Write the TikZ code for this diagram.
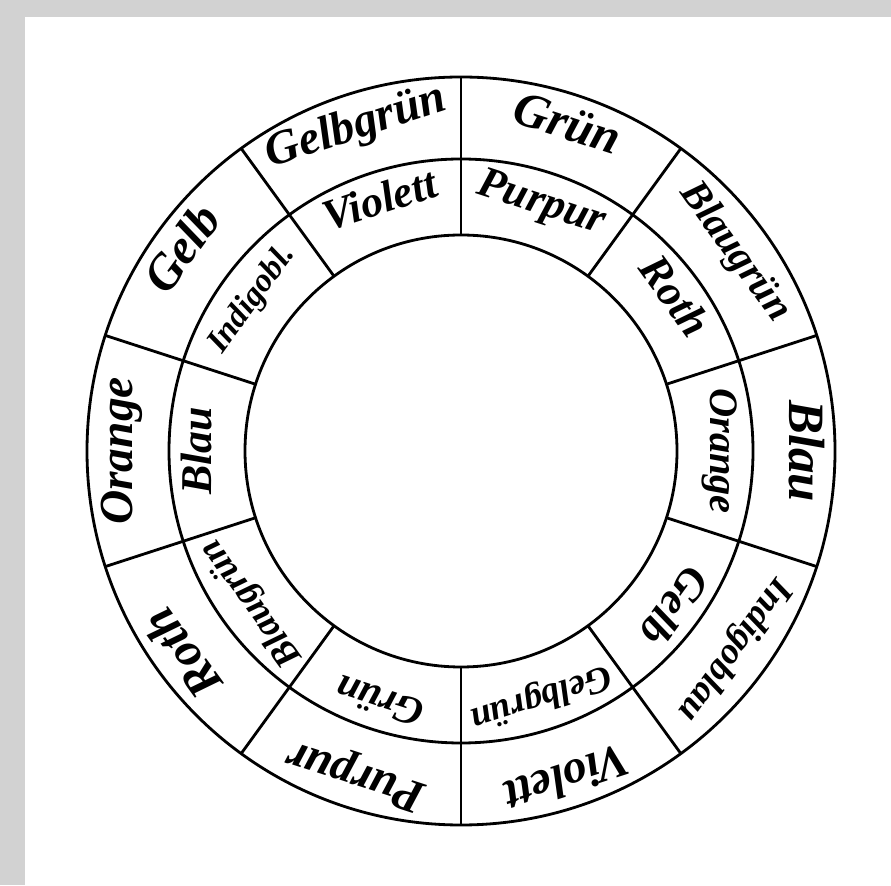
\documentclass[tikz,border=0pt]{standalone}
\usepackage{fontspec}
\setmainfont{Liberation Serif}
\begin{document}
\begin{tikzpicture}[x=0.02cm,y=0.02cm,
		ring/.style={line width=1.6pt},
		label/.style={font=\bfseries\itshape\fontsize{#1}{#1}\selectfont, inner sep=0pt, text height=0.7em, text depth=0.2em}]
		% Frame
		\fill[gray!35] (0,0) rectangle (891,885);
		\fill[white] (25,0) rectangle (891,868);
		\useasboundingbox (0,0) rectangle (891,885);
		
		\begin{scope}[shift={(461,434)}]
		% Circles
		\draw[ring] (0,0) circle (374);
		\draw[ring] (0,0) circle (292);
		\draw[ring] (0,0) circle (216);
		
		% Spokes
		\foreach \a in {18,54,...,342}
			\draw[ring] (\a:216) -- (\a:374);
		
		% Outer ring
		\foreach \a/\t/\s [count=\i] in {108/Gelbgrün/27, 72/Grün/28, 36/Blaugrün/23, 0/Blau/29, -36/Indigoblau/21, -72/Violett/27, -108/Purpur/27, -144/Roth/28, 180/Orange/27, 144/Gelb/28}
			\node[label=\s, rotate=\a-90] (o\i) at (\a:333) {\t};
		
		% Inner ring
		\foreach \a/\t/\s [count=\i] in {108/Violett/25, 72/Purpur/25, 36/Roth/25, 0/Orange/23, -36/Gelb/25, -72/Gelbgrün/21, -108/Grün/23, -144/Blaugrün/21, 180/Blau/25, 144/Indigobl./19}
			\node[label=\s, rotate=\a-90] (i\i) at (\a:254) {\t};
		\end{scope}
		
	\end{tikzpicture}
\end{document}
